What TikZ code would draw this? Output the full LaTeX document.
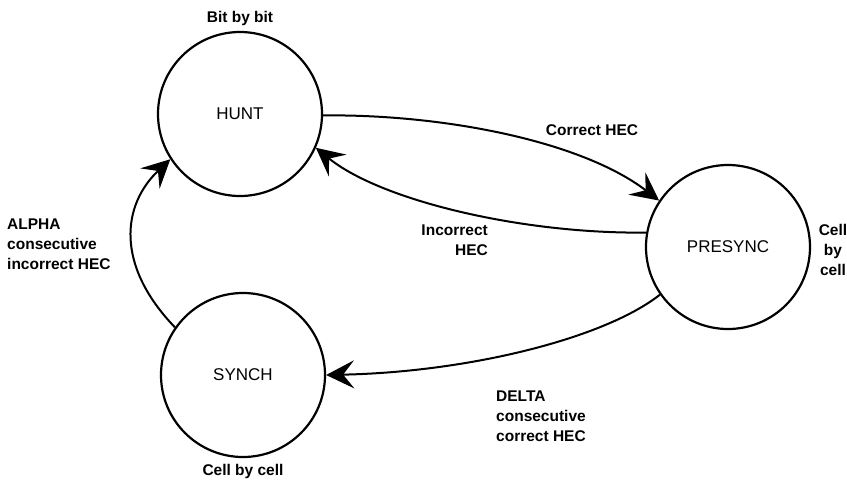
\documentclass[tikz,border=0pt]{standalone}
\usepackage{fontspec}
\setmainfont{Liberation Sans}
\usetikzlibrary{arrows.meta}
\begin{document}
\begin{tikzpicture}[x=1pt,y=-1pt,
  state/.style={circle,draw,line width=2.2pt,minimum size=164pt,inner sep=0pt,
    font=\fontsize{17}{20}\selectfont},
  lbl/.style={font=\fontsize{15.5}{20}\selectfont\bfseries,inner sep=0pt},
  trans/.style={line width=2pt,-{Stealth[length=28pt,width=28pt,inset=11pt]}}]
\useasboundingbox (0,0) rectangle (847,480);

% states
\node[state] (hunt) at (240,114) {HUNT};
\node[state] (presync) at (728,247) {PRESYNC};
\node[state] (synch) at (243,375) {SYNCH};

% state annotations
\node[lbl] (huntnote) at (240,18) {Bit by bit};
\node[lbl,align=center] (presyncnote) at (833,250) {Cell\\by\\cell};
\node[lbl] (synchnote) at (243,471) {Cell by cell};

% transitions
\draw[trans] (hunt.-1) .. controls (440,114) and (580,140) .. (presync.146);
\draw[trans] (presync.170) .. controls (520,234) and (380,200) .. (hunt.-24);
\draw[trans] (synch.145) .. controls (115,265) and (122,205) .. (hunt.-147);
\draw[trans] (presync.-145) .. controls (605,338) and (470,372) .. (synch.0);

% transition labels
\node[lbl] (correct) at (592,130) {Correct HEC};
\node[lbl,align=right,anchor=north east] (incorrect) at (488,225) {Incorrect\\HEC};
\node[lbl,align=left,anchor=west] (alpha) at (7,244) {ALPHA\\consecutive\\incorrect HEC};
\node[lbl,align=left,anchor=north west] (delta) at (496,391) {DELTA\\consecutive\\correct HEC};
\end{tikzpicture}
\end{document}
